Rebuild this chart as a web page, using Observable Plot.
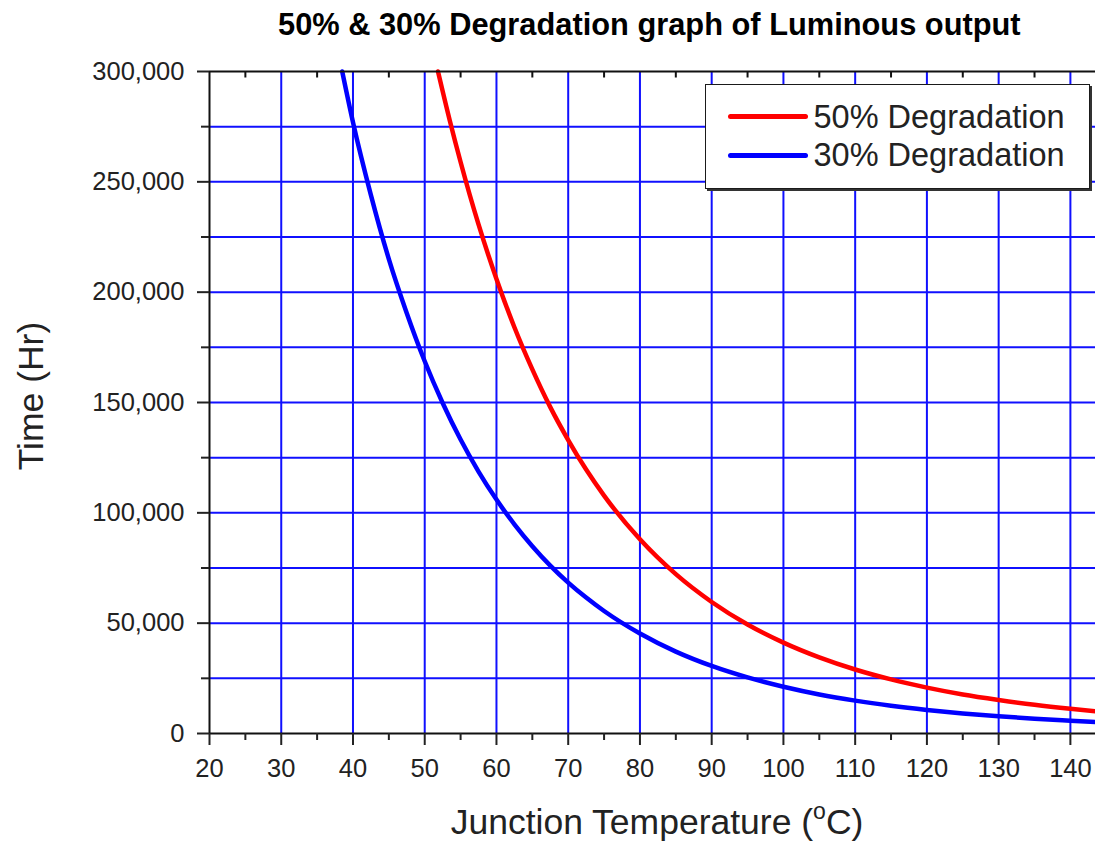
<!DOCTYPE html>
<html>
<head>
<meta charset="utf-8">
<script src="https://cdn.jsdelivr.net/npm/d3@7"></script>
<script src="https://cdn.jsdelivr.net/npm/@observablehq/plot@0.6"></script>
<style>
  html, body { margin: 0; padding: 0; background: #fff; overflow: hidden; }
  #wrap { position: relative; width: 1095px; height: 843px; font-family: "Liberation Sans", Arial, sans-serif; color: #222; }
  #chart { position: absolute; left: 0; top: 0; }
  .title { position: absolute; left: 278px; top: 10px; font-size: 30.8px; line-height: 30px; font-weight: bold; color: #000; white-space: nowrap; }
  .xtitle { position: absolute; left: 657px; top: 805px; transform: translateX(-50%); font-size: 35.5px; line-height: 35px; white-space: nowrap; }
  .xtitle sup { font-size: 23px; vertical-align: 0; position: relative; top: -15px; }
  .ytitle { position: absolute; left: 31px; top: 396px; transform: translate(-50%, -50%) rotate(-90deg); font-size: 35.5px; line-height: 35px; white-space: nowrap; }
  .legend { position: absolute; left: 705px; top: 84px; width: 383px; height: 103px; border: 1.5px solid #1a1a1a; box-shadow: 2px 2px 0 #333; background: #fff; }
  .legend .sw { position: absolute; left: 21.5px; width: 80px; height: 5px; border-radius: 3px; }
  .legend .lb { position: absolute; left: 107.5px; font-size: 32.5px; line-height: 32px; white-space: nowrap; }
</style>
</head>
<body>
<div id="wrap">
  <div id="chart"></div>
  <div class="title">50% &amp; 30% Degradation graph of Luminous output</div>
  <div class="ytitle">Time (Hr)</div>
  <div class="xtitle">Junction Temperature (<sup>o</sup>C)</div>
  <div class="legend" id="legend"></div>
</div>
<script>
// ---- data ----
const seriesNames = ["50% Degradation", "30% Degradation"];
const seriesColors = ["#ff0000", "#0000ff"];

const temp50 = [51.85, 53.5, 55, 57.5, 60, 62.5, 65, 67.5, 70, 72.5, 75, 80, 85, 90, 95, 100, 105, 110, 115, 120, 125, 130, 135, 140, 143.5];
const hours50 = [300000, 277700, 259000, 230700, 206000, 184100, 165000, 147900, 133000, 119600, 107800, 88000, 72200, 59600, 49400, 41200, 34500, 29000, 24500, 20800, 17700, 15200, 13000, 11200, 10100];

const temp30 = [38.5, 40, 42.5, 45, 47.5, 50, 52.5, 55, 57.5, 60, 62.5, 65, 67.5, 70, 72.5, 75, 80, 85, 90, 95, 100, 105, 110, 115, 120, 125, 130, 135, 140, 143.5];
const hours30 = [300000, 277000, 244000, 215000, 190500, 168700, 149800, 133200, 118700, 106000, 94800, 84900, 76100, 68400, 61600, 55500, 45300, 37100, 30600, 25400, 21200, 17700, 14900, 12600, 10700, 9100, 7800, 6700, 5800, 5200];

const xMajor = [20, 30, 40, 50, 60, 70, 80, 90, 100, 110, 120, 130, 140];
const xMinor = [25, 35, 45, 55, 65, 75, 85, 95, 105, 115, 125, 135];
const xGrid = [30, 40, 50, 60, 70, 80, 90, 100, 110, 120, 130, 140];
const yMajor = [0, 50000, 100000, 150000, 200000, 250000, 300000];
const yMinor = [25000, 75000, 125000, 175000, 225000, 275000];
const yGrid = [25000, 50000, 75000, 100000, 125000, 150000, 175000, 200000, 225000, 250000, 275000];

// ---- build tables ----
const data50 = temp50.map((t, i) => ({temp: t, hours: hours50[i]}));
const data30 = temp30.map((t, i) => ({temp: t, hours: hours30[i]}));

const W = 1095, H = 843, MT = 71, MB = 110, ML = 209, MR = 0;
const innerH = H - MT - MB;

const chart = Plot.plot({
  width: W, height: H,
  marginTop: MT, marginBottom: MB, marginLeft: ML, marginRight: MR,
  x: {domain: [20, 143.5], label: null},
  y: {domain: [0, 300000], label: null},
  style: {fontFamily: "'Liberation Sans', Arial, sans-serif", fontSize: "25.5px", color: "#222", background: "transparent", overflow: "visible"},
  marks: [
    Plot.gridX(xGrid, {stroke: "#1010ff", strokeOpacity: 1, strokeWidth: 2}),
    Plot.gridY(yGrid, {stroke: "#1010ff", strokeOpacity: 1, strokeWidth: 2}),
    Plot.line(data30, {x: "temp", y: "hours", stroke: seriesColors[1], strokeWidth: 4.5, curve: "monotone-x"}),
    Plot.line(data50, {x: "temp", y: "hours", stroke: seriesColors[0], strokeWidth: 4.5, curve: "monotone-x"}),
    Plot.ruleX([20], {stroke: "#111", strokeWidth: 2}),
    Plot.ruleY([0], {stroke: "#111", strokeWidth: 2}),
    Plot.ruleY([300000], {stroke: "#111", strokeWidth: 2}),
    Plot.axisX(xMajor, {tickSize: 12, tickPadding: 13, strokeWidth: 2, label: null, tickFormat: d => String(d)}),
    Plot.axisX(xMinor, {tickSize: 7, text: null, strokeWidth: 2, label: null}),
    Plot.tickX(xMinor, {x: d => d, stroke: "#111", strokeWidth: 2, insetBottom: innerH - 6.5}),
    Plot.axisY(yMajor, {tickSize: 12, tickPadding: 13, strokeWidth: 2, label: null, tickFormat: d3.format(",")}),
    Plot.axisY(yMinor, {tickSize: 8, text: null, strokeWidth: 2, label: null})
  ]
});
document.getElementById("chart").appendChild(chart);

// ---- legend ----
const legend = document.getElementById("legend");
const swTops = [31.2 - 2.5, 70.5 - 2.5];
const lbTops = [15.7, 54.1];
seriesNames.forEach((name, i) => {
  const sw = document.createElement("div");
  sw.className = "sw";
  sw.style.top = swTops[i] + "px";
  sw.style.background = seriesColors[i];
  legend.appendChild(sw);
  const lb = document.createElement("div");
  lb.className = "lb";
  lb.style.top = lbTops[i] + "px";
  lb.textContent = name;
  legend.appendChild(lb);
});
</script>
</body>
</html>
